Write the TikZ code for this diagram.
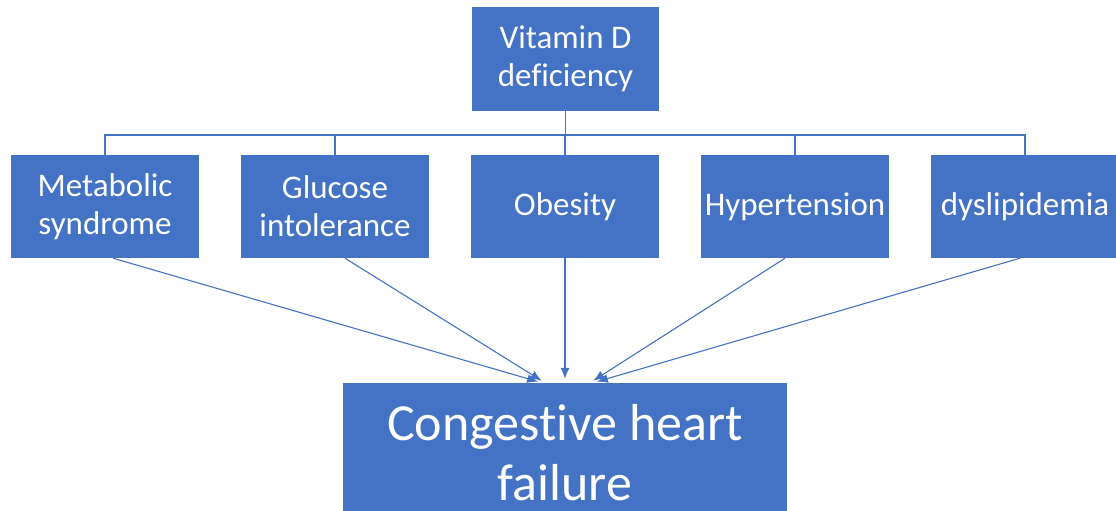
\documentclass[tikz,border=0pt]{standalone}
\usepackage{fontspec}
\setmainfont{Carlito}[Ligatures=NoCommon]
\usetikzlibrary{arrows.meta}
\definecolor{officeblue}{HTML}{4472C4}
\tikzset{
  box/.style={fill=officeblue, text=white, align=center, inner sep=0pt,
    minimum width=188pt, minimum height=103pt, font=\fontsize{33}{38}\selectfont},
  bus/.style={draw=officeblue, line width=1.2pt},
  arr/.style={draw=officeblue, line width=1.1pt, -{Latex[length=11pt,width=9pt]}, shorten >=4pt}
}
\begin{document}
\begin{tikzpicture}[x=1pt,y=-1pt]
\useasboundingbox (0,0) rectangle (1116,511);
\clip (0,0) rectangle (1116,511);
\node[box, minimum width=187pt, minimum height=104pt] (vd) at (565.5,59) {Vitamin D\\deficiency};
\node[box] (ms) at (105,206.5) {Metabolic\\syndrome};
\node[box] (gi) at (335,206.5) {Glucose\\intolerance};
\node[box] (ob) at (565,206.5) {Obesity};
\node[box] (ht) at (795,206.5) {Hypertension};
\node[box] (dl) at (1025,206.5) {dyslipidemia};
\node[box, minimum width=444pt, minimum height=140pt, font=\fontsize{52}{60}\selectfont] (chf) at (565,453) {Congestive heart\\failure};
\coordinate (bj) at (565.5,135);
\draw[bus] (vd.south) -- (bj);
\foreach \n in {ms,gi,ob,ht,dl} {
  \draw[bus] (bj) -| (\n.north);
}
\draw[arr] ([xshift=8pt]ms.south) -- ([xshift=-23pt]chf.north);
\draw[arr] ([xshift=10pt]gi.south) -- ([xshift=-20pt]chf.north);
\draw[arr] (ob.south) -- (chf.north);
\draw[arr] ([xshift=-10pt]ht.south) -- ([xshift=25pt]chf.north);
\draw[arr] ([xshift=-5pt]dl.south) -- ([xshift=28pt]chf.north);
\end{tikzpicture}
\end{document}
